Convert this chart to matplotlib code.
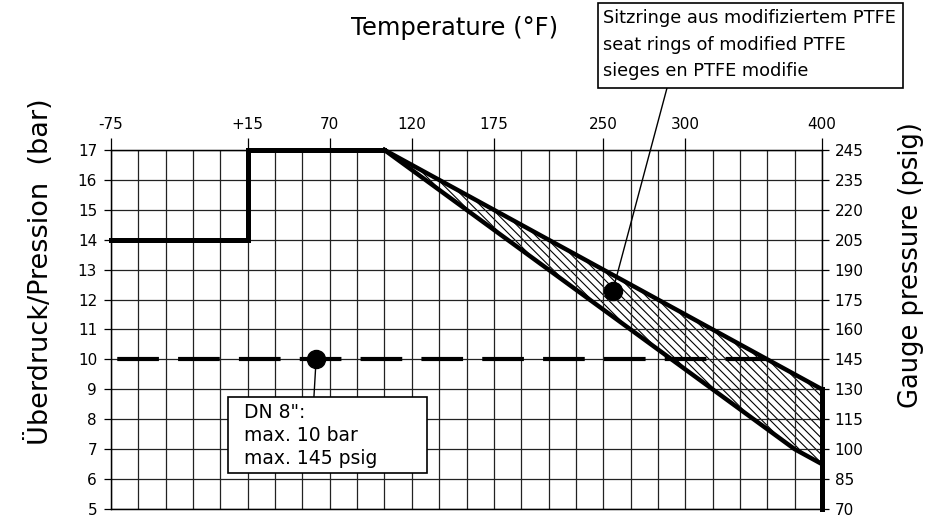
import numpy as np
import matplotlib
matplotlib.use("Agg")
import matplotlib.pyplot as plt
from matplotlib.patches import Polygon, Rectangle

plt.rcParams['font.family'] = ['DejaVu Sans']
plt.rcParams['hatch.linewidth'] = 0.8

# temperature axis in °C (grid every 10 °C), labels on top in °F
temp_min, temp_max = -60, 200
f_tick_pos = [-60, -10, 20, 50, 80, 120, 150, 200]
f_tick_labels = ['-75', '+15', '70', '120', '175', '250', '300', '400']

bar_ticks = list(range(5, 18))
psig_labels = ['70', '85', '100', '115', '130', '145', '160', '175',
               '190', '205', '220', '235', '245']

# pressure / temperature curves
step_T = [-60, -10, -10, 40]
step_bar = [14, 14, 17, 17]
upper_T = [40, 200]
upper_bar = [17, 9]
lower_T = [40, 190, 200]
lower_bar = [17, 7, 6.5]
end_T = [200, 200]
end_bar = [9, 5]

# DN 8" limit
dn8_T = [-60, 186]
dn8_bar = [10, 10]
dn8_dot = (15, 10)
ptfe_dot = (123.5, 12.3)

fig = plt.figure(figsize=(9.32, 5.23), dpi=100)
ax = fig.add_axes([0.1191, 0.0268, 0.7629, 0.6864])
ax.set_xlim(temp_min, temp_max)
ax.set_ylim(5, 17)

# grid
ax.set_xticks(f_tick_pos)
ax.set_xticklabels(f_tick_labels)
ax.set_xticks(np.arange(temp_min, temp_max + 1, 10), minor=True)
ax.set_yticks(bar_ticks)
ax.grid(which='both', color='#222222', linewidth=0.9)
ax.xaxis.tick_top()
ax.tick_params(axis='x', which='major', top=True, bottom=False, labeltop=True,
               labelbottom=False, length=8.6, width=0.9, pad=4, labelsize=11)
ax.tick_params(axis='x', which='minor', length=0, top=False, bottom=False)
ax.tick_params(axis='y', length=5, width=0.9, pad=5, labelsize=11)
for s in ax.spines.values():
    s.set_linewidth(0.9)

ax2 = ax.twinx()
ax2.set_ylim(5, 17)
ax2.set_yticks(bar_ticks)
ax2.set_yticklabels(psig_labels)
ax2.tick_params(axis='y', length=5, width=0.9, pad=4, labelsize=11)
for s in ax2.spines.values():
    s.set_linewidth(0.9)

# hatched band between the two seat ring curves
band = list(zip(upper_T, upper_bar)) + list(zip(lower_T[::-1], lower_bar[::-1]))
ax.add_patch(Polygon(band, closed=True, facecolor='none', edgecolor='black',
                     hatch='\\\\\\\\', linewidth=0))

ax.plot(step_T, step_bar, color='black', lw=3.6, solid_joinstyle='miter', clip_on=False)
ax.plot(upper_T, upper_bar, color='black', lw=3.2, clip_on=False)
ax.plot(lower_T, lower_bar, color='black', lw=3.2, clip_on=False)
ax.plot(end_T, end_bar, color='black', lw=3.6, clip_on=False)
ax.plot(dn8_T, dn8_bar, color='black', lw=3, linestyle=(13.1, (10, 4.6)))

ax.plot(*dn8_dot, 'o', color='black', ms=13, zorder=5)
ax.plot(*ptfe_dot, 'o', color='black', ms=13, zorder=5)

# DN 8" note box
ax.add_patch(Rectangle((-17.2, 6.2), 72.7, 2.54, facecolor='white',
                       edgecolor='black', lw=1.2, zorder=6))
ax.text(-11.4, 7.45, 'DN 8":\nmax. 10 bar\nmax. 145 psig', fontsize=13.5,
        va='center', ha='left', linespacing=1.25, zorder=7)
ax.annotate('', xy=dn8_dot, xytext=(14.2, 8.74),
            arrowprops=dict(arrowstyle='-', lw=1, shrinkA=0, shrinkB=0), zorder=4)

# PTFE note box (outside the axes)
fig.add_artist(Rectangle((598 / 932, 1 - 88 / 523), 305 / 932, 85 / 523,
                         transform=fig.transFigure, facecolor='white',
                         edgecolor='black', lw=1.2))
for i, line in enumerate(['Sitzringe aus modifiziertem PTFE',
                          'seat rings of modified PTFE',
                          'sieges en PTFE modifie']):
    fig.text(603 / 932, 1 - (18 + 26.5 * i) / 523, line, fontsize=12.8,
             va='center', ha='left')
ax.annotate('', xy=ptfe_dot, xytext=(667 / 932, 1 - 88 / 523),
            textcoords='figure fraction',
            arrowprops=dict(arrowstyle='-', lw=1, shrinkA=0, shrinkB=0),
            annotation_clip=False)

fig.text(455 / 932, 1 - 28 / 523, 'Temperature (°F)', fontsize=17.5,
         ha='center', va='center')
fig.text(40 / 932, 1 - 272 / 523, 'Überdruck/Pression  (bar)', fontsize=19.5,
         rotation=90, ha='center', va='center')
fig.text(911 / 932, 1 - 265 / 523, 'Gauge pressure (psig)', fontsize=18.5,
         rotation=90, ha='center', va='center')

fig.savefig('out.png', dpi=100, facecolor='white')
